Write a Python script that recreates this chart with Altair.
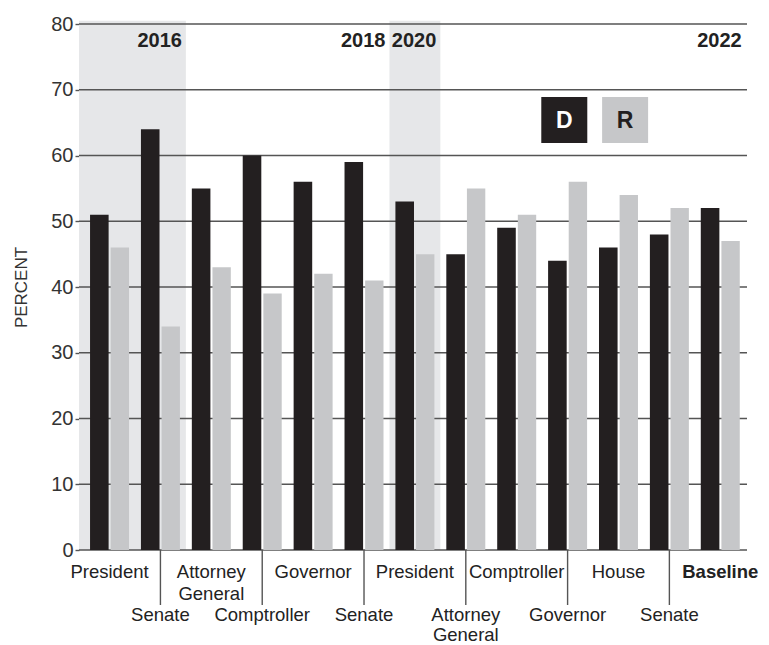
import altair as alt
import pandas as pd

# ---- data ----
races = ["President", "Senate", "Attorney\nGeneral", "Comptroller", "Governor", "Senate",
         "President", "Attorney\nGeneral", "Comptroller", "Governor", "House", "Senate", "Baseline"]
years = [2016, 2016, 2018, 2018, 2018, 2018, 2020, 2022, 2022, 2022, 2022, 2022, 2022]
dem = [51, 64, 55, 60, 56, 59, 53, 45, 49, 44, 46, 48, 52]
rep = [46, 34, 43, 39, 42, 41, 45, 55, 51, 56, 54, 52, 47]
shaded_years = [2016, 2020]
y_ticks = [0, 10, 20, 30, 40, 50, 60, 70, 80]
parties = ["D", "R"]

D_COL = "#231f20"
R_COL = "#c6c7c9"
SHADE = "#e6e7e9"
GRID = "#555555"
TXT = "#222222"
FONT = "Liberation Sans"

XMIN, XMAX = -0.6, 12.525
xs = alt.Scale(domain=[XMIN, XMAX], nice=False, zero=False)
ys = alt.Scale(domain=[0, 80], nice=False)

W, H = 668, 526

# bars table
rows = []
for i, (r, d, p) in enumerate(zip(races, dem, rep)):
    rows.append({"i": i, "race": r, "party": "D", "value": d})
    rows.append({"i": i, "race": r, "party": "R", "value": p})
bars_df = pd.DataFrame(rows)

# year spans
year_df = []
for yv in sorted(set(years)):
    idx = [i for i, y in enumerate(years) if y == yv]
    start = XMIN if min(idx) == 0 else min(idx) - 0.5
    year_df.append({"year": str(yv), "start": start, "end": max(idx) + 0.5})
year_df = pd.DataFrame(year_df)
shade_df = year_df[year_df["year"].isin([str(s) for s in shaded_years])]

label_df = pd.DataFrame({"i": list(range(len(races))), "race": races})
label_df["row"] = label_df["i"] % 2
label_df["bold"] = (label_df["race"] == "Baseline").astype(int)

grid_df = pd.DataFrame({"v": y_ticks})

shade = alt.Chart(shade_df).mark_rect(color=SHADE).encode(
    x=alt.X("start:Q", scale=xs, axis=None),
    x2="end:Q",
    y=alt.datum(0, scale=ys),
    y2=alt.datum(80.5),
)

grid = alt.Chart(grid_df).mark_rule(color=GRID, strokeWidth=1.4).encode(
    y=alt.Y("v:Q", scale=ys,
            axis=alt.Axis(values=y_ticks, grid=False, domain=False, tickColor=GRID,
                          tickSize=4, tickWidth=1.4, labelFontSize=20, labelColor="#333333",
                          labelFont=FONT, labelPadding=2, title="PERCENT",
                          titleFont=FONT, titleFontSize=17, titleFontWeight="normal",
                          titleColor="#333333", titleAngle=270, titleX=-58, titleY=H / 2,
                          titleAlign="center", titleBaseline="middle")),
)

bars = alt.Chart(bars_df).transform_calculate(
    x0="datum.party == 'D' ? datum.i - 0.383 : datum.i + 0.022",
    x1="datum.party == 'D' ? datum.i - 0.018 : datum.i + 0.383",
).mark_rect().encode(
    x=alt.X("x0:Q", scale=xs, axis=None),
    x2="x1:Q",
    y=alt.Y("value:Q", scale=ys),
    y2=alt.datum(0),
    color=alt.Color("party:N", scale=alt.Scale(domain=parties, range=[D_COL, R_COL]), legend=None),
)

top_labels = alt.Chart(label_df).transform_filter(
    "datum.row == 0 && datum.bold == 0"
).transform_calculate(
    lines="split(datum.race, '\\n')"
).mark_text(
    font=FONT, fontSize=18.5, color=TXT, baseline="alphabetic", lineHeight=22.5
).encode(
    x=alt.X("i:Q", scale=xs, axis=None),
    y=alt.value(553.5),
    text="lines:N",
)

bold_labels = alt.Chart(label_df).transform_filter("datum.bold == 1").mark_text(
    font=FONT, fontSize=18.5, fontWeight="bold", color=TXT, baseline="alphabetic"
).encode(
    x=alt.X("i:Q", scale=xs, axis=None),
    y=alt.value(553.5),
    text="race:N",
)

bottom_labels = alt.Chart(label_df).transform_filter("datum.row == 1").transform_calculate(
    lines="split(datum.race, '\\n')"
).mark_text(
    font=FONT, fontSize=18.5, color=TXT, baseline="alphabetic", lineHeight=20
).encode(
    x=alt.X("i:Q", scale=xs, axis=None),
    y=alt.value(597),
    text="lines:N",
)

separators = alt.Chart(label_df).transform_filter("datum.row == 1").mark_rule(
    color=GRID, strokeWidth=1.4
).encode(
    x=alt.X("i:Q", scale=xs, axis=None),
    y=alt.value(H),
    y2=alt.value(581),
)

year_labels = alt.Chart(year_df).mark_text(
    font=FONT, fontSize=20, fontWeight="bold", color=TXT, align="right",
    baseline="alphabetic", dx=-4
).encode(
    x=alt.X("end:Q", scale=xs, axis=None),
    y=alt.datum(76.5, scale=ys),
    text="year:N",
)

legend_df = pd.DataFrame({"party": parties, "lx": [8.935, 10.13]})
legend_boxes = alt.Chart(legend_df).mark_square(size=2116, opacity=1).encode(
    x=alt.X("lx:Q", scale=xs, axis=None),
    y=alt.datum(65.4, scale=ys),
    color=alt.Color("party:N", scale=alt.Scale(domain=parties, range=[D_COL, R_COL]), legend=None),
)
legend_text = alt.Chart(legend_df).mark_text(
    font=FONT, fontSize=23, fontWeight="bold", baseline="middle", dy=1
).encode(
    x=alt.X("lx:Q", scale=xs, axis=None),
    y=alt.datum(65.4, scale=ys),
    text="party:N",
    color=alt.Color("party:N", scale=alt.Scale(domain=parties, range=["#ffffff", D_COL]), legend=None),
)

chart = alt.layer(
    shade, grid, bars, separators, top_labels, bold_labels, bottom_labels, year_labels,
    legend_boxes, legend_text
).resolve_scale(color="independent").properties(
    width=W, height=H,
    background="white",
    autosize=alt.AutoSizeParams(type="none"),
    padding={"left": 71, "top": 16, "right": 14, "bottom": 95},
).configure_view(stroke=None)

chart.save("out.html", embed_options={"renderer": "svg", "actions": False})
